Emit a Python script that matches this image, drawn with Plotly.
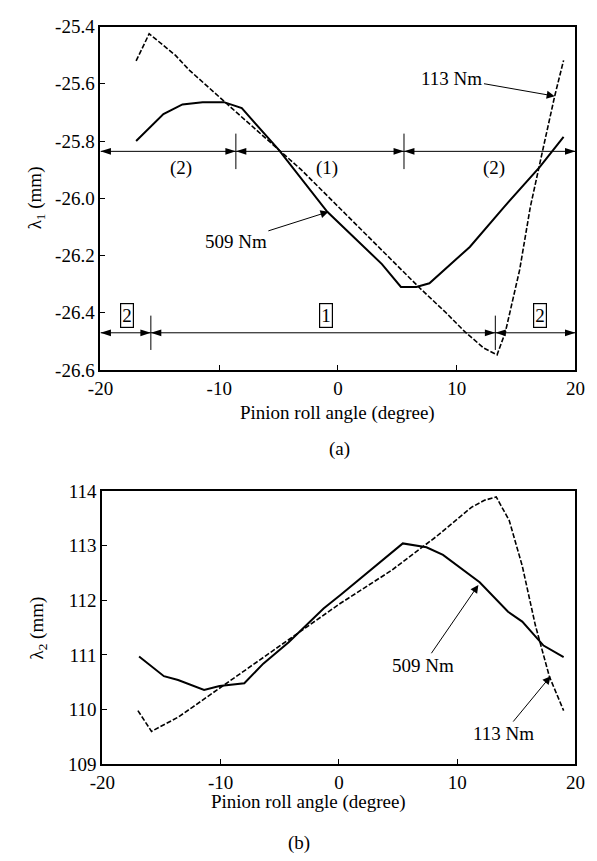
import plotly.graph_objects as go

# ---------------- data: panel (a) lambda_1 ----------------
x_a_509 = [-17.0, -15.8, -14.7, -13.1, -11.4, -9.6, -8.1, -5.0, -0.9, 3.7, 5.3, 6.6, 7.7, 11.1, 14.0, 17.0, 19.0]
y_a_509 = [-25.80, -25.751, -25.706, -25.672, -25.664, -25.664, -25.685, -25.83, -26.047, -26.23, -26.31, -26.31, -26.297, -26.17, -26.03, -25.89, -25.785]

x_a_113 = [-17.0, -15.9, -13.7, -12.5, -9.0, -3.1, 6.8, 9.1, 10.7, 12.3, 13.4, 14.1, 15.3, 16.2, 17.2, 18.25, 19.0]
y_a_113 = [-25.52, -25.425, -25.50, -25.553, -25.683, -25.90, -26.31, -26.40, -26.467, -26.524, -26.547, -26.467, -26.25, -26.03, -25.84, -25.643, -25.518]

# ---------------- data: panel (b) lambda_2 ----------------
x_b_509 = [-16.9, -14.8, -13.6, -11.4, -10.1, -8.0, -6.4, -4.25, -1.3, 0.1, 5.4, 7.4, 8.8, 11.9, 14.3, 15.5, 17.3, 19.0]
y_b_509 = [110.97, 110.61, 110.54, 110.36, 110.43, 110.48, 110.84, 111.23, 111.85, 112.09, 113.04, 112.97, 112.83, 112.33, 111.79, 111.61, 111.17, 110.96]

x_b_113 = [-17.0, -15.85, -13.6, -12.4, 0.1, 4.4, 8.2, 11.2, 12.3, 13.3, 14.4, 15.5, 16.6, 17.8, 19.0]
y_b_113 = [109.98, 109.60, 109.86, 110.04, 111.94, 112.54, 113.16, 113.70, 113.83, 113.89, 113.46, 112.63, 111.55, 110.6, 109.98]

# ---------------- ticks ----------------
x_tickvals = [-20, -10, 0, 10, 20]
x_ticktext = ["-20", "-10", "0", "10", "20"]
ya_tickvals = [-25.4, -25.6, -25.8, -26.0, -26.2, -26.4, -26.6]
ya_ticktext = ["-25.4", "-25.6", "-25.8", "-26.0", "-26.2", "-26.4", "-26.6"]
yb_tickvals = [109, 110, 111, 112, 113, 114]
yb_ticktext = ["109", "110", "111", "112", "113", "114"]

# ---------------- region markers (panel a) ----------------
row1_y = -25.836
row1_bounds = [-20, -8.6, 5.56, 20]
row1_labels = ["(2)", "(1)", "(2)"]
row1_label_x = [-13.2, -0.9, 13.1]
row1_label_y = -25.893
row2_y = -26.47
row2_bounds = [-20, -15.76, 13.25, 20]
row2_labels = ["2", "1", "2"]
row2_label_x = [-17.8, -1.05, 17.0]
row2_label_y = -26.408

FONT = "Liberation Serif, Times New Roman, Times, serif"

fig = go.Figure()
fig.add_trace(go.Scatter(x=x_a_509, y=y_a_509, mode="lines", line=dict(color="black", width=2), xaxis="x", yaxis="y"))
fig.add_trace(go.Scatter(x=x_a_113, y=y_a_113, mode="lines", line=dict(color="black", width=1.6, dash="5px,2px"), xaxis="x", yaxis="y"))
fig.add_trace(go.Scatter(x=x_b_509, y=y_b_509, mode="lines", line=dict(color="black", width=2), xaxis="x2", yaxis="y2"))
fig.add_trace(go.Scatter(x=x_b_113, y=y_b_113, mode="lines", line=dict(color="black", width=1.6, dash="5px,2px"), xaxis="x2", yaxis="y2"))

# double-headed region arrows drawn as line segments with arrow-tip markers
for row_y, bounds in [(row1_y, row1_bounds), (row2_y, row2_bounds)]:
    for i in range(3):
        fig.add_trace(go.Scatter(
            x=[bounds[i], bounds[i + 1]], y=[row_y, row_y], mode="lines+markers",
            line=dict(color="black", width=1),
            marker=dict(symbol="arrow", size=11, color="black", angle=[-90, 90], line=dict(width=0)),
            xaxis="x", yaxis="y", cliponaxis=False))

axis_common = dict(showgrid=False, zeroline=False, showline=True, linecolor="black", linewidth=2,
                   mirror=True, ticks="inside", ticklen=5, tickwidth=1, tickcolor="black",
                   tickfont=dict(family=FONT, size=19, color="black"))

annotations = []
shapes = []

for row_y, bounds, tick_half in [(row1_y, row1_bounds, 0.062), (row2_y, row2_bounds, 0.06)]:
    for b in bounds[1:3]:
        shapes.append(dict(type="line", xref="x", yref="y", x0=b, x1=b, y0=row_y - tick_half, y1=row_y + tick_half,
                           line=dict(color="black", width=1)))

for lx, lt in zip(row1_label_x, row1_labels):
    annotations.append(dict(x=lx, y=row1_label_y, xref="x", yref="y", text=lt, showarrow=False,
                            font=dict(family=FONT, size=19, color="black")))
for lx, lt in zip(row2_label_x, row2_labels):
    annotations.append(dict(x=lx, y=row2_label_y, xref="x", yref="y", text=lt, showarrow=False,
                            bordercolor="black", borderwidth=1.2, borderpad=1,
                            font=dict(family=FONT, size=19, color="black")))

# curve labels
label_font = dict(family=FONT, size=19, color="black")
arrow_style = dict(showarrow=True, arrowhead=2, arrowsize=1.6, arrowwidth=1, arrowcolor="black", font=label_font)
annotations += [
    dict(x=18.25, y=-25.643, ax=9.6, ay=-25.58, xref="x", yref="y", axref="x", ayref="y",
         text="113 Nm", **arrow_style),
    dict(x=-0.8, y=-26.047, ax=-8.6, ay=-26.15, xref="x", yref="y", axref="x", ayref="y",
         text="509 Nm", **arrow_style),
    dict(x=11.79, y=112.28, ax=7.12, ay=110.81, xref="x2", yref="y2", axref="x2", ayref="y2",
         text="509 Nm", **arrow_style),
    dict(x=17.9, y=110.61, ax=13.9, ay=109.56, xref="x2", yref="y2", axref="x2", ayref="y2",
         text="113 Nm", **arrow_style),
]

# axis titles and panel captions
W, H = 597, 861
def px(xp, yp):
    return xp / W, 1 - yp / H

for text, (xp, yp), ang in [
    ("Pinion roll angle (degree)", (338, 413), 0),
    ("(a)", (340, 450), 0),
    ("Pinion roll angle (degree)", (307, 812), 0),
    ("(b)", (297, 854), 0),
    ("λ<sub>1</sub> (mm)", (24, 193), -90),
    ("λ<sub>2</sub> (mm)", (26, 633), -90),
]:
    xx, yy = px(xp, yp)
    annotations.append(dict(x=xx, y=yy, xref="paper", yref="paper", text=text, showarrow=False,
                            textangle=ang, xanchor="center", yanchor="middle",
                            font=dict(family=FONT, size=19, color="black")))

fig.update_layout(
    width=W, height=H, margin=dict(l=0, r=0, t=0, b=0),
    paper_bgcolor="white", plot_bgcolor="white", showlegend=False,
    xaxis=dict(domain=[91 / W, 585 / W], range=[-20, 20], anchor="y",
               tickvals=x_tickvals, ticktext=x_ticktext, **axis_common),
    yaxis=dict(domain=[1 - 369 / H, 1 - 17 / H], range=[-26.6, -25.4], anchor="x",
               tickvals=ya_tickvals, ticktext=ya_ticktext, **axis_common),
    xaxis2=dict(domain=[93 / W, 585 / W], range=[-20, 20], anchor="y2",
                tickvals=x_tickvals, ticktext=x_ticktext, **axis_common),
    yaxis2=dict(domain=[1 - 773 / H, 1 - 493 / H], range=[109, 114], anchor="x2",
                tickvals=yb_tickvals, ticktext=yb_ticktext, **axis_common),
    annotations=annotations,
    shapes=shapes,
)

fig.write_html("out.html")
